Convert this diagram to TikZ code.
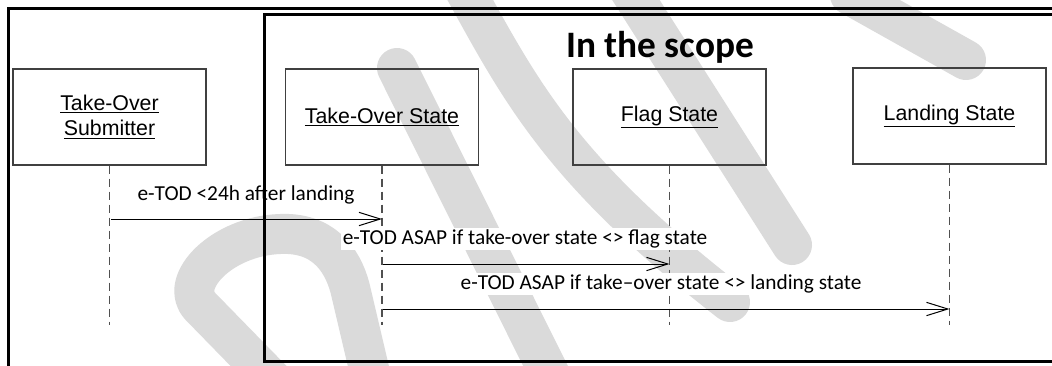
\documentclass[tikz,border=0pt]{standalone}
\usepackage{fontspec}
\setmainfont{Liberation Sans}
\newfontfamily\calfont{Carlito}
\usetikzlibrary{arrows.meta}
\definecolor{wmgray}{RGB}{218,218,218}
\definecolor{boxgray}{RGB}{64,64,64}
\definecolor{lifegray}{RGB}{80,80,80}
\begin{document}
\begin{tikzpicture}[x=0.75pt,y=-0.75pt,
  wm/.style={draw=wmgray, line width=30pt, line cap=round, line join=round},
  actor/.style={draw=boxgray, line width=1pt, minimum width=144.75pt, minimum height=72pt, inner sep=0pt, align=center, font=\fontsize{16}{19}\selectfont},
  lifeline/.style={draw=lifegray, line width=0.8pt, dash pattern=on 6pt off 3.75pt},
  msg/.style={draw=black, line width=0.75pt, -{Straight Barb[length=16pt,width=10pt]}},
  msglabel/.style={fill=white, inner sep=1pt, font=\calfont\fontsize{16}{19}\selectfont},
  frame/.style={draw=black, line width=1.6pt}]
\useasboundingbox (0,0) rectangle (1052,365);
\clip (0,0) rectangle (1052,365);
\fill[white] (0,0) rectangle (1052,365);
% watermark
\draw[wm] (282,390) -- (200,306) .. controls (178,282) and (222,236) .. (280,234) .. controls (322,232) and (342,258) .. (350,288) -- (374,390);
\draw[wm] (397,68) -- (560,395);
\draw[wm] (462,-15) .. controls (520,90) and (560,170) .. (730,302);
\draw[wm] (620,-25) -- (792,245);
\draw[wm] (850,-5) -- (966,60);
% actors
\node[actor] (sub) at (109.5,117) {\underline{Take-Over}\\\underline{Submitter}};
\node[actor] (tos) at (382,117) {\underline{Take-Over State}};
\node[actor] (fls) at (669.5,117) {\underline{Flag State}};
\node[actor] (lds) at (949.5,116) {\underline{Landing State}};
% lifeline ends
\coordinate (subE) at (109.5,325);
\coordinate (tosE) at (382,325);
\coordinate (flsE) at (669.5,325);
\coordinate (ldsE) at (949.5,325);
\draw[lifeline] (sub.south) -- (subE);
\draw[lifeline] (tos.south) -- (tosE);
\draw[lifeline] (fls.south) -- (flsE);
\draw[lifeline] (lds.south) -- (ldsE);
% message points
\coordinate (m1a) at (111,219);
\coordinate (m1b) at (382,219);
\coordinate (m2a) at (383,264);
\coordinate (m2b) at (669.5,264);
\coordinate (m3a) at (383,309);
\coordinate (m3b) at (949.5,309);
\node[msglabel] (l1) at (246,195) {e-TOD <24h after landing};
\node[msglabel] (l2) at (525,239) {e-TOD ASAP if take-over state <> flag state};
\node[msglabel] (l3) at (661,284) {e-TOD ASAP if take–over state <> landing state};
\draw[msg] (m1a) -- (m1b);
\draw[msg] (m2a) -- (m2b);
\draw[msg] (m3a) -- (m3b);
% title
\node[font=\calfont\bfseries\fontsize{28}{32}\selectfont] (title) at (660,47) {In the scope};
% frames
\draw[frame] (8.5,400) -- (8.5,8.5) -- (1100,8.5);
\draw[frame] (1100,14.5) -- (264.5,14.5) -- (264.5,361.5) -- (1100,361.5);
\end{tikzpicture}
\end{document}
